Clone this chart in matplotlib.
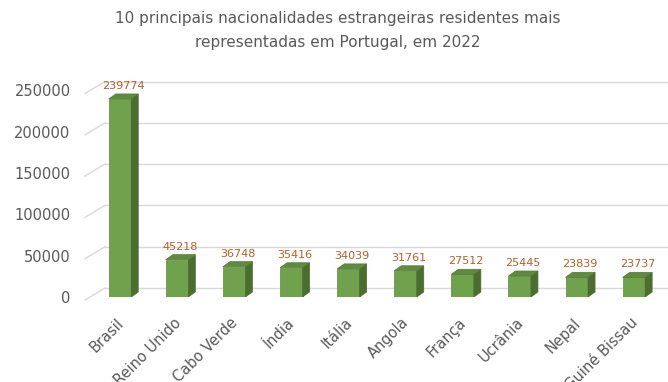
import matplotlib
matplotlib.use("Agg")
import matplotlib.pyplot as plt
import matplotlib.transforms as mtransforms
from matplotlib.patches import Polygon, Rectangle

plt.rcParams["font.family"] = "DejaVu Sans"

paises = ['Brasil', 'Reino Unido', 'Cabo Verde', 'Índia', 'Itália',
          'Angola', 'França', 'Ucrânia', 'Nepal', 'Guiné Bissau']
residentes = [239774, 45218, 36748, 35416, 34039, 31761, 27512, 25445, 23839, 23737]
yticks = [0, 50000, 100000, 150000, 200000, 250000]

cinza = '#595959'
grelha = '#d9d9d9'
frente = '#70a14c'
lado = '#4b6d30'
topo = '#5f8b3e'
cor_rotulo = '#b35f2c'

W, H = 668, 382
fig = plt.figure(figsize=(W / 100, H / 100), dpi=100)

# area do grafico em pixeis
esq, dirt, base, cima = 90, 668, 297, 60
ax = fig.add_axes([esq / W, (H - base) / H, (dirt - esq) / W, (base - cima) / H])
passo = 57.1                  # pixeis entre barras
x0 = 120                      # centro da primeira barra
ax.set_xlim((esq - x0) / passo, (dirt - x0) / passo)
por_px = 250000 / 206.5       # unidades por pixel
ax.set_ylim(0, (base - cima) * por_px)
px = 1 / passo                # um pixel em unidades de x
py = por_px                   # um pixel em unidades de y

for s in ax.spines.values():
    s.set_visible(False)

# parede do fundo: linhas de grelha com o degrau diagonal a esquerda
wall_dy = 9 * py
for v in yticks:
    ax.plot([(85 - x0) * px, (105 - x0) * px], [v - 3 * py, v + wall_dy],
            color=grelha, lw=1, clip_on=False, zorder=1)
    ax.plot([(105 - x0) * px, (dirt - x0) * px], [v + wall_dy, v + wall_dy],
            color=grelha, lw=1, clip_on=False, zorder=1)

# barras em 3D: frente, lado e topo
largura = 22.5 * px
dx, dy = 7 * px, 5 * py
for i, v in enumerate(residentes):
    l = i - largura / 2
    r = i + largura / 2
    ax.add_patch(Rectangle((l, 0), largura, v, facecolor=frente,
                           edgecolor='#5f8a40', lw=0.5, zorder=3))
    ax.add_patch(Polygon([(r, 0), (r + dx, dy), (r + dx, v + dy), (r, v)],
                         closed=True, facecolor=lado, edgecolor=lado, lw=0.5, zorder=3))
    ax.add_patch(Polygon([(l, v), (r, v), (r + dx, v + dy), (l + dx, v + dy)],
                         closed=True, facecolor=topo, edgecolor='#527a36', lw=0.5, zorder=3))
    ax.text(i + dx / 2, v + dy + 3 * py, str(v), ha='center', va='bottom',
            fontsize=8, color=cor_rotulo, zorder=4)

ax.set_yticks(yticks)
ax.set_yticklabels([str(t) for t in yticks], fontsize=10.5, color=cinza)
ax.tick_params(axis='y', length=0, pad=14)

ax.set_xticks(range(len(paises)))
ax.set_xticklabels(paises, rotation=45, ha='right', rotation_mode='anchor',
                   fontsize=10.5, color=cinza)
ax.tick_params(axis='x', length=0, pad=13)
desvio = mtransforms.ScaledTranslation(-4 / 100, 0, fig.dpi_scale_trans)
for t in ax.get_xticklabels():
    t.set_transform(t.get_transform() + desvio)

fig.text(338 / W, 1 - 18 / H, '10 principais nacionalidades estrangeiras residentes mais',
         ha='center', va='center', fontsize=11, color=cinza)
fig.text(338 / W, 1 - 42 / H, 'representadas em Portugal, em 2022',
         ha='center', va='center', fontsize=11, color=cinza)

fig.savefig('out.png', dpi=100, facecolor='white')
